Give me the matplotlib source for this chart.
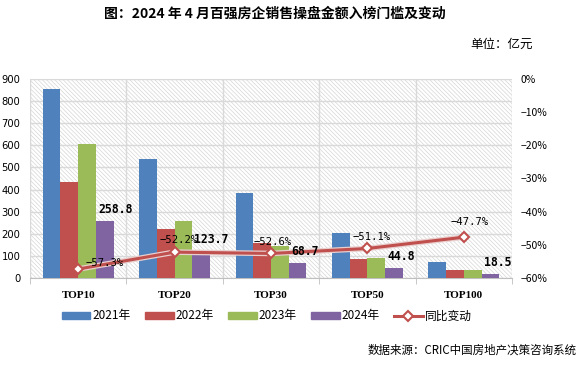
import matplotlib
matplotlib.use("Agg")
import matplotlib.pyplot as plt
import numpy as np
from matplotlib.patches import Rectangle
from matplotlib.lines import Line2D
from matplotlib.ticker import FuncFormatter, FixedLocator

plt.rcParams['font.family'] = ['Noto Sans CJK SC', 'DejaVu Sans']
plt.rcParams['hatch.linewidth'] = 0.5

categories = ["TOP10", "TOP20", "TOP30", "TOP50", "TOP100"]
series_names = ["2021年", "2022年", "2023年", "2024年"]
v2021 = [857, 540, 386, 205, 74]
v2022 = [436, 223, 160, 87, 34]
v2023 = [606, 259, 145, 92, 35]
v2024 = [258.8, 123.7, 68.7, 44.8, 18.5]
yoy = [-57.3, -52.2, -52.6, -51.1, -47.7]
line_name = "同比变动"

colors = ["#4F81BD", "#C0504D", "#9BBB59", "#8064A2"]
line_color = "#C0504D"

fig = plt.figure(figsize=(5.79, 3.65), dpi=100)
ax = fig.add_axes([30/579, 1-278/365, (512-30)/579, (278-79)/365])

x = np.arange(len(categories))
bw = 0.184
series = [v2021, v2022, v2023, v2024]
for i, (vals, c) in enumerate(zip(series, colors)):
    ax.bar(x + (i - 1.5) * bw, vals, bw, color=c, zorder=3, label=series_names[i])

ax.set_xlim(-0.5, len(categories) - 0.5)
ax.set_ylim(0, 900)
ax.set_yticks(np.arange(0, 901, 100))
ax.add_patch(Rectangle((0, 0), 1, 1, transform=ax.transAxes, facecolor='white',
                       hatch='\\\\\\\\\\\\\\\\', edgecolor='#D6D6D6', lw=0, zorder=0))
ax.grid(axis='y', color='#D9D9D9', lw=1, zorder=1)
for b in np.arange(-0.5, len(categories), 1.0):
    ax.axvline(b, color='#D9D9D9', lw=1, zorder=1)
ax.set_xticks(x)
ax.set_xticklabels(categories, fontfamily='Liberation Serif', fontweight='bold', fontsize=8)
ax.xaxis.set_minor_locator(FixedLocator(np.arange(-0.5, len(categories), 1.0)))
ax.tick_params(axis='x', which='major', length=0, pad=9)
ax.tick_params(axis='x', which='minor', length=4, color='#BFBFBF')
ax.tick_params(axis='y', length=0, labelsize=7.2, pad=7, colors='#000000')
for s in ['top', 'right', 'left']:
    ax.spines[s].set_visible(False)
ax.spines['bottom'].set_color('#BFBFBF')
for lbl in ax.get_yticklabels():
    lbl.set_fontfamily('DejaVu Sans')

ax2 = ax.twinx()
ax2.set_position(ax.get_position())
ax2.set_ylim(-60, 0)
ax2.set_yticks(np.arange(-60, 1, 10))
ax2.yaxis.set_major_formatter(FuncFormatter(lambda v, p: f"{int(v)}%" if v == 0 else f"−{int(-v)}%"))
ax2.tick_params(axis='y', length=0, labelsize=7.5, pad=6)
for s in ['top', 'right', 'left', 'bottom']:
    ax2.spines[s].set_visible(False)
ax2.plot(x, yoy, color='#E9CFCE', lw=4, zorder=4, solid_capstyle='round')
ax2.plot(x, yoy, color=line_color, lw=2.2, marker='D', ms=5.5, mfc='white', mec=line_color,
         mew=1.5, zorder=5)
offs = [(19, 1), (3, 5), (1, 5), (3, 5), (4, 7)]
for xi, v, o in zip(x, yoy, offs):
    ax2.annotate(f"{v:.1f}%".replace('-', '−'), (xi, v), xytext=o, textcoords='offset points',
                 ha='center', va='bottom', fontsize=7.6, fontfamily='DejaVu Sans Mono', zorder=6)

# bar labels for 2024 (drawn on top of the line)
for xi, v in zip(x, v2024):
    ax2.annotate(f"{v:.1f}", (xi + bw, v), xycoords=ax.transData, xytext=(1.5, 3.5),
                 textcoords='offset points', ha='left', va='bottom', fontsize=8.3,
                 fontweight='bold', fontfamily='DejaVu Sans Mono', zorder=7)

handles = [Rectangle((0, 0), 1, 1, color=c) for c in colors]
handles.append(Line2D([0], [0], color=line_color, lw=2.2, marker='D', ms=5.5, mfc='white',
                      mec=line_color, mew=1.5))
fig.legend(handles, series_names + [line_name], loc='center', bbox_to_anchor=(267/579, 1-316/365),
           ncol=5, frameon=False, fontsize=8.5, handlelength=2.4, handleheight=0.5,
           columnspacing=1.2, handletextpad=0.2)

fig.text(275/579, 1-14/365, "图：2024 年 4 月百强房企销售操盘金额入榜门槛及变动", ha='center', va='center',
         fontsize=10, fontweight='bold')
fig.text(533/579, 1-44/365, "单位：亿元", ha='right', va='center', fontsize=9)
fig.text(577/579, 1-350/365, "数据来源：CRIC中国房地产决策咨询系统", ha='right', va='center', fontsize=8.3)

fig.savefig("out.png", dpi=100)
